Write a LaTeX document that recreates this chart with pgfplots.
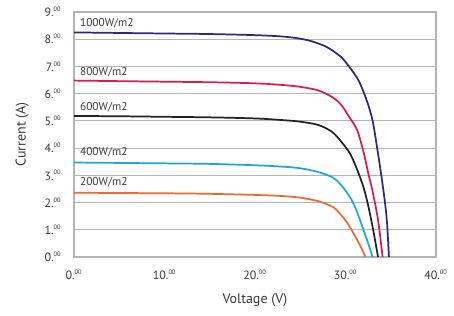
\documentclass[border=0pt]{standalone}
\usepackage{pgfplots}
\pgfplotsset{compat=1.18}
\usepackage{fontspec}
\setmainfont{PT Sans}
\definecolor{c1000}{HTML}{2E2A7A}
\definecolor{c800}{HTML}{D81B50}
\definecolor{c600}{HTML}{222222}
\definecolor{c400}{HTML}{1EA5E0}
\definecolor{c200}{HTML}{EE6A2C}
\definecolor{gridc}{HTML}{B4B4B4}
\definecolor{txt}{HTML}{3A3A3A}
\newcommand{\tl}[1]{#1.\textsuperscript{\scalebox{0.8}{00}}}
\begin{document}
\begin{tikzpicture}
\begin{axis}[
  scale only axis,
  width=271.5pt, height=183.75pt,
  xmin=0, xmax=40, ymin=0, ymax=9,
  xtick={0,10,20,30,40},
  xticklabels={\tl{0},\tl{10},\tl{20},\tl{30},\tl{40}},
  ytick={0,1,2,3,4,5,6,7,8,9},
  yticklabels={\tl{0},\tl{1},\tl{2},\tl{3},\tl{4},\tl{5},\tl{6},\tl{7},\tl{8},\tl{9}},
  major tick length=0pt,
  ymajorgrids,
  grid style={gridc, line width=0.9pt},
  axis line style={gridc, line width=1pt},
  tick label style={font=\fontsize{9}{10}\selectfont, text=txt},
  xticklabel style={yshift=-6pt},
  yticklabel style={xshift=-6pt},
  xlabel={Voltage (V)},
  ylabel={Current (A)},
  label style={font=\fontsize{10.5}{12}\selectfont, text=txt},
  xlabel style={yshift=-4pt},
  ylabel style={yshift=5pt},
  every axis plot/.append style={line width=1.3pt, smooth, no markers},
  clip=false,
]
\addplot[c1000] coordinates {(0,8.25)(5,8.23)(10,8.21)(15,8.19)(20,8.15)(23,8.10)(25,8.02)(26.5,7.90)(28,7.70)(29.5,7.35)(30.5,6.95)(31.5,6.45)(32.4,5.70)(33,5.0)(33.5,4.0)(34,2.9)(34.4,1.9)(34.6,1.2)(34.8,0)};
\addplot[c800] coordinates {(0,6.48)(5,6.46)(10,6.44)(15,6.42)(20,6.38)(23,6.32)(25,6.25)(27,6.12)(28.5,5.88)(29.5,5.6)(30.5,5.1)(31.3,4.65)(32,3.85)(32.5,3.1)(33,2.4)(33.6,1.35)(34.1,0)};
\addplot[c600] coordinates {(0,5.18)(5,5.17)(10,5.15)(15,5.13)(20,5.09)(23,5.03)(25,4.97)(27,4.85)(28.5,4.6)(29.5,4.25)(30.5,3.8)(31.3,3.2)(32,2.55)(32.5,1.9)(33,1.1)(33.6,0)};
\addplot[c400] coordinates {(0,3.47)(10,3.44)(15,3.42)(20,3.37)(23,3.32)(25,3.26)(27,3.12)(28.6,2.92)(29.5,2.65)(30.5,2.2)(31.1,1.8)(31.6,1.36)(32.3,0.7)(33.0,0)};
\addplot[c200] coordinates {(0,2.36)(10,2.34)(15,2.32)(20,2.28)(23,2.24)(25,2.18)(27,2.05)(28.6,1.84)(29.5,1.55)(30.2,1.25)(30.8,0.92)(31.3,0.62)(31.8,0.3)(32.2,0)};
\begin{scope}[every node/.style={anchor=west, font=\fontsize{8.5}{9}\selectfont, text=txt, inner sep=1pt}]
\node at (axis cs:0.5,8.57) {1000W/m2};
\node at (axis cs:0.5,6.8) {800W/m2};
\node at (axis cs:0.5,5.5) {600W/m2};
\node at (axis cs:0.5,3.86) {400W/m2};
\node at (axis cs:0.5,2.76) {200W/m2};
\end{scope}
\end{axis}
\pgfresetboundingbox
\path (-55.5pt,-44.25pt) rectangle (285pt,192.75pt);
\end{tikzpicture}
\end{document}
